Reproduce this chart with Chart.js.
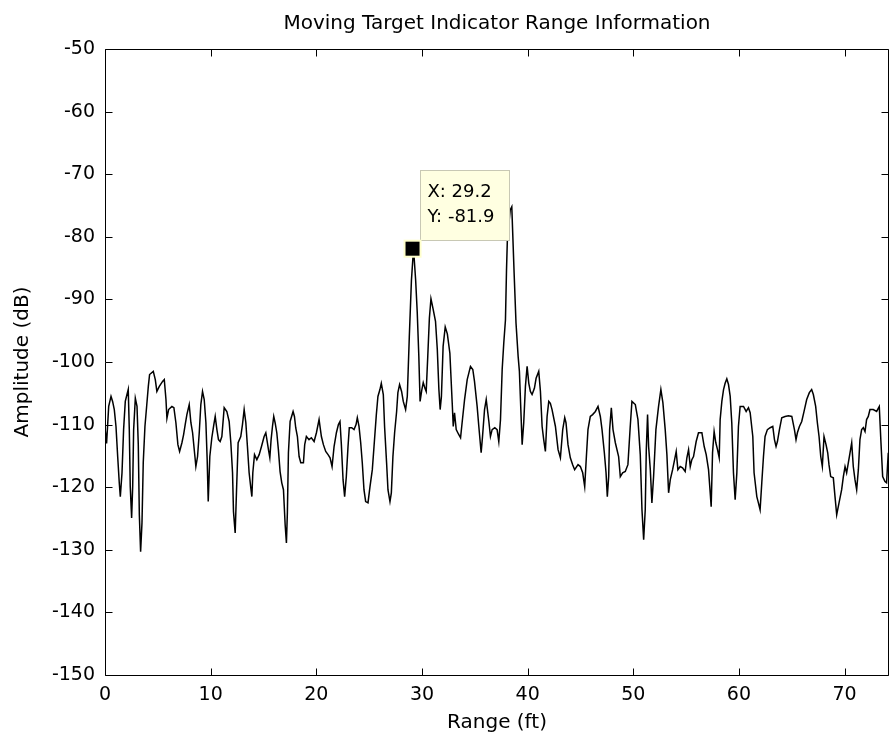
<!DOCTYPE html>
<html>
<head>
<meta charset="utf-8">
<title>Moving Target Indicator Range Information</title>
<script src="https://cdn.jsdelivr.net/npm/chart.js@4.4.1/dist/chart.umd.min.js"></script>
<style>
  html, body { margin: 0; padding: 0; background: #fff; }
  #wrap { width: 889px; height: 742px; }
</style>
</head>
<body>
<div id="wrap"><canvas id="mti" width="889" height="742"></canvas></div>
<script>
// range bins (ft) and amplitude (dB)
const rangeFt = [
  0.00, 0.15, 0.35, 0.57, 0.72, 0.88, 1.04, 1.20, 1.35, 1.45, 1.61, 1.76, 1.92, 2.08, 2.20, 2.30, 2.39, 2.52, 2.62, 2.71,
  2.87, 3.03, 3.15, 3.25, 3.37, 3.50, 3.62, 3.78, 3.94, 4.10, 4.22, 4.57, 4.76, 4.91, 5.14, 5.45, 5.61, 5.77, 5.86, 6.02,
  6.33, 6.52, 6.71, 6.90, 7.06, 7.28, 7.44, 7.59, 7.75, 7.97, 8.13, 8.29, 8.51, 8.60, 8.76, 8.92, 9.07, 9.23, 9.39, 9.55,
  9.67, 9.77, 9.92, 10.11, 10.30, 10.43, 10.59, 10.74, 10.90, 11.06, 11.28, 11.53, 11.75, 11.91, 12.07, 12.16, 12.32, 12.45, 12.60, 12.85,
  13.01, 13.17, 13.33, 13.48, 13.64, 13.80, 13.90, 13.99, 14.15, 14.37, 14.59, 14.81, 15.06, 15.22, 15.47, 15.60, 15.72, 15.85, 15.97, 16.10,
  16.26, 16.41, 16.57, 16.73, 16.89, 17.05, 17.17, 17.26, 17.36, 17.52, 17.80, 17.93, 18.05, 18.21, 18.37, 18.53, 18.78, 18.90, 19.06, 19.31,
  19.53, 19.79, 20.01, 20.26, 20.48, 20.67, 20.89, 21.11, 21.30, 21.49, 21.68, 21.90, 22.09, 22.24, 22.37, 22.53, 22.68, 22.84, 23.00, 23.12,
  23.35, 23.57, 23.76, 23.88, 24.04, 24.20, 24.35, 24.51, 24.67, 24.89, 25.08, 25.30, 25.46, 25.68, 25.83, 26.02, 26.15, 26.34, 26.46, 26.65,
  26.78, 26.97, 27.10, 27.25, 27.41, 27.60, 27.72, 27.88, 28.07, 28.23, 28.45, 28.61, 28.80, 29.00, 29.20, 29.40, 29.55, 29.70, 29.82, 29.98,
  30.12, 30.28, 30.40, 30.55, 30.70, 30.85, 31.05, 31.28, 31.45, 31.60, 31.72, 31.84, 32.00, 32.20, 32.40, 32.64, 32.86, 32.96, 33.08, 33.24,
  33.45, 33.65, 33.81, 34.03, 34.28, 34.59, 34.81, 34.97, 35.22, 35.38, 35.60, 35.73, 35.92, 36.08, 36.33, 36.48, 36.64, 36.89, 37.11, 37.27,
  37.43, 37.59, 37.74, 37.90, 38.00, 38.08, 38.35, 38.50, 38.72, 38.90, 39.10, 39.22, 39.38, 39.48, 39.63, 39.79, 39.95, 40.11, 40.26, 40.42,
  40.64, 40.80, 41.05, 41.21, 41.37, 41.52, 41.68, 41.84, 42.00, 42.15, 42.31, 42.63, 42.88, 43.10, 43.32, 43.51, 43.63, 43.82, 44.04, 44.26,
  44.45, 44.77, 44.99, 45.21, 45.40, 45.56, 45.71, 45.93, 46.15, 46.41, 46.66, 46.88, 47.04, 47.26, 47.42, 47.54, 47.67, 47.76, 47.92, 48.08,
  48.30, 48.61, 48.77, 48.99, 49.24, 49.49, 49.71, 49.87, 50.19, 50.44, 50.66, 50.82, 50.98, 51.13, 51.23, 51.35, 51.45, 51.61, 51.76, 51.92,
  52.14, 52.39, 52.61, 52.80, 53.02, 53.18, 53.34, 53.50, 53.72, 53.91, 54.06, 54.22, 54.44, 54.66, 54.91, 55.07, 55.23, 55.39, 55.54, 55.70,
  55.95, 56.17, 56.49, 56.71, 56.90, 57.12, 57.28, 57.37, 57.50, 57.65, 57.81, 57.97, 58.13, 58.22, 58.38, 58.54, 58.69, 58.85, 59.01, 59.17,
  59.32, 59.48, 59.64, 59.80, 59.95, 60.11, 60.43, 60.68, 60.90, 61.06, 61.31, 61.43, 61.69, 61.84, 62.00, 62.16, 62.32, 62.47, 62.69, 62.95,
  63.20, 63.36, 63.51, 63.64, 63.83, 64.05, 64.36, 64.68, 65.00, 65.25, 65.40, 65.53, 65.72, 65.94, 66.16, 66.41, 66.66, 66.88, 67.04, 67.26,
  67.42, 67.58, 67.74, 67.89, 68.05, 68.24, 68.40, 68.52, 68.68, 68.93, 69.09, 69.25, 69.47, 69.72, 69.88, 70.04, 70.19, 70.35, 70.51, 70.67,
  70.82, 70.98, 71.14, 71.30, 71.45, 71.61, 71.77, 71.93, 72.08, 72.24, 72.40, 72.71, 73.03, 73.28, 73.44, 73.60, 73.82, 73.97, 74.13
];
const amplitudeDb = [
  -110.5, -113.0, -107.1, -105.5, -106.3, -107.6, -110.3, -115.1, -119.3, -121.5, -117.7, -110.8, -106.3, -105.2, -104.4, -110.8, -119.9, -124.9, -119.9, -110.8,
  -105.8, -107.1, -113.2, -124.4, -130.3, -125.7, -116.1, -110.3, -107.1, -103.9, -102.0, -101.5, -102.8, -104.7, -103.9, -103.1, -102.8, -106.0, -109.0, -107.6,
  -107.1, -107.3, -109.7, -113.2, -114.3, -112.9, -111.6, -110.0, -108.4, -106.8, -109.7, -111.3, -115.1, -116.7, -115.1, -111.3, -106.8, -104.7, -106.0, -109.7,
  -115.6, -122.3, -115.1, -112.1, -110.0, -108.7, -110.8, -112.4, -112.7, -111.9, -107.3, -107.9, -109.5, -112.9, -117.7, -123.9, -127.3, -120.4, -112.9, -111.9,
  -110.0, -107.6, -109.7, -113.5, -117.7, -120.1, -121.5, -117.7, -114.8, -115.6, -114.8, -113.5, -111.9, -111.3, -114.0, -115.3, -112.4, -110.3, -108.7, -109.7,
  -111.3, -114.0, -117.5, -119.3, -120.4, -126.0, -128.9, -124.1, -114.5, -109.5, -107.9, -108.7, -110.5, -111.9, -115.1, -116.1, -116.1, -113.2, -111.9, -112.4,
  -112.1, -112.7, -111.3, -109.2, -111.9, -113.2, -114.3, -114.8, -115.3, -116.7, -113.5, -111.3, -110.0, -109.5, -113.2, -118.8, -121.5, -118.3, -113.5, -110.5,
  -110.5, -110.8, -110.0, -108.9, -110.3, -112.9, -116.1, -120.4, -122.3, -122.5, -119.9, -117.2, -113.5, -108.4, -105.5, -104.4, -103.4, -105.2, -110.3, -116.1,
  -120.4, -122.3, -120.9, -115.1, -111.3, -107.9, -104.9, -103.6, -104.7, -106.3, -107.6, -105.5, -96.0, -87.0, -81.9, -86.9, -92.0, -99.0, -106.3, -104.5,
  -103.3, -104.2, -104.7, -99.0, -93.0, -89.9, -91.5, -93.5, -98.0, -104.4, -107.6, -105.5, -97.5, -94.4, -95.5, -98.6, -106.5, -110.3, -108.1, -110.8,
  -111.5, -112.1, -109.5, -106.0, -102.8, -100.7, -101.2, -103.1, -107.1, -110.3, -114.5, -111.9, -107.6, -106.0, -109.5, -111.9, -110.8, -110.5, -110.8, -112.7,
  -109.2, -101.2, -97.0, -93.3, -85.3, -80.5, -75.7, -75.2, -85.8, -93.8, -99.1, -101.5, -108.7, -113.2, -109.7, -103.9, -100.7, -103.4, -104.7, -105.2,
  -104.2, -102.6, -101.5, -104.7, -110.3, -112.4, -114.3, -108.7, -106.3, -106.6, -107.6, -110.3, -114.0, -115.3, -110.8, -108.9, -109.7, -113.2, -115.3, -116.4,
  -117.2, -116.4, -116.7, -117.7, -119.9, -115.1, -110.8, -108.7, -108.4, -107.9, -107.1, -108.7, -110.8, -114.5, -117.7, -121.5, -118.3, -110.8, -107.3, -110.8,
  -112.9, -115.1, -118.3, -117.7, -117.5, -116.4, -110.3, -106.3, -106.8, -109.2, -114.8, -123.6, -128.4, -123.6, -114.0, -108.4, -113.5, -117.2, -122.5, -118.3,
  -110.8, -107.1, -104.4, -106.5, -110.8, -114.8, -120.9, -118.8, -117.2, -115.6, -114.3, -117.2, -116.7, -116.9, -117.5, -115.3, -114.0, -116.7, -115.6, -115.1,
  -112.7, -111.3, -111.3, -113.5, -114.8, -117.2, -120.9, -123.1, -114.5, -111.1, -112.9, -114.0, -115.3, -109.2, -106.3, -104.4, -103.4, -102.7, -103.6, -105.5,
  -109.7, -117.7, -122.0, -117.7, -110.3, -107.1, -107.1, -107.9, -107.3, -108.1, -111.9, -117.7, -121.5, -122.5, -123.6, -119.3, -115.1, -111.9, -110.8, -110.5,
  -110.3, -112.4, -113.5, -112.7, -110.8, -108.9, -108.7, -108.6, -108.7, -110.8, -112.4, -111.3, -110.3, -109.5, -107.9, -106.0, -104.9, -104.4, -105.2, -107.1,
  -109.7, -111.9, -115.1, -116.7, -111.9, -113.2, -114.5, -116.4, -118.3, -118.5, -121.5, -124.4, -122.5, -120.4, -118.3, -116.7, -117.7, -116.1, -114.5, -112.9,
  -116.7, -118.8, -120.4, -117.2, -112.4, -110.8, -110.5, -111.1, -109.2, -108.7, -107.6, -107.6, -107.9, -107.1, -112.9, -118.3, -119.1, -119.3, -114.5
];

const xTicks = [0, 10, 20, 30, 40, 50, 60, 70];
const yTicks = [-150, -140, -130, -120, -110, -100, -90, -80, -70, -60, -50];

// data cursor
const tipX = 29.2;
const tipY = -81.9;

const FONT = "'DejaVu Sans', 'Liberation Sans', sans-serif";

// matlab style box, inward ticks on all four sides and the data tip
const matlabAxes = {
  id: 'matlabAxes',
  afterDatasetsDraw(chart) {
    const { ctx, chartArea: a, scales: { x, y } } = chart;
    const tl = 7;
    ctx.save();
    ctx.strokeStyle = '#000';
    ctx.lineWidth = 1;
    const L = a.left + 0.5, R = a.right - 0.5, T = a.top + 0.5, B = a.bottom + 0.5;
    ctx.beginPath();
    ctx.rect(L, T, R - L, B - T);
    xTicks.forEach(v => {
      const px = Math.round(x.getPixelForValue(v)) + 0.5;
      ctx.moveTo(px, B); ctx.lineTo(px, B - tl);
      ctx.moveTo(px, T); ctx.lineTo(px, T + tl);
    });
    yTicks.forEach(v => {
      const py = Math.round(y.getPixelForValue(v)) + 0.5;
      ctx.moveTo(L, py); ctx.lineTo(L + tl, py);
      ctx.moveTo(R, py); ctx.lineTo(R - tl, py);
    });
    ctx.stroke();

    // data tip
    const cx = x.getPixelForValue(tipX);
    const cy = y.getPixelForValue(tipY);
    const bx = Math.round(cx) + 6.5, by = Math.round(cy) - 78.5, bw = 89, bh = 70;
    ctx.fillStyle = '#ffffe1';
    ctx.strokeStyle = '#c8c8b4';
    ctx.fillRect(bx, by, bw, bh);
    ctx.strokeRect(bx, by, bw, bh);
    ctx.fillStyle = '#000';
    ctx.font = "18px " + FONT;
    ctx.textBaseline = 'middle';
    ctx.textAlign = 'left';
    ctx.fillText('X: ' + tipX.toFixed(1), bx + 7, by + 22);
    ctx.fillText('Y: ' + tipY.toFixed(1), bx + 7, by + 47);

    ctx.fillStyle = '#ffffcc';
    ctx.fillRect(cx - 10, cy - 9, 18, 18);
    ctx.fillStyle = '#000';
    ctx.fillRect(cx - 8, cy - 7, 14, 14);
    ctx.restore();
  }
};

new Chart(document.getElementById('mti'), {
  type: 'line',
  data: {
    datasets: [{
      data: rangeFt.map((r, i) => ({ x: r, y: amplitudeDb[i] })),
      borderColor: '#000',
      borderWidth: 1.5,
      pointRadius: 0,
      tension: 0,
      fill: false
    }]
  },
  options: {
    responsive: false,
    animation: false,
    layout: { padding: 0 },
    plugins: {
      legend: { display: false },
      tooltip: { enabled: false },
      title: {
        display: true,
        fullSize: false,
        text: 'Moving Target Indicator Range Information',
        color: '#000',
        font: { family: FONT, size: 20, weight: 'normal' },
        padding: { top: 12, bottom: 13 }
      }
    },
    scales: {
      x: {
        type: 'linear',
        min: 0,
        max: 74.2,
        grid: { display: false, drawTicks: false },
        border: { display: false },
        afterBuildTicks: s => { s.ticks = xTicks.map(v => ({ value: v })); },
        afterFit: s => { s.height = 67; },
        ticks: { color: '#000', font: { family: FONT, size: 19 }, padding: 9, maxRotation: 0, autoSkip: false },
        title: { display: true, text: 'Range (ft)', color: '#000', font: { family: FONT, size: 20 }, padding: { top: 0, bottom: 7 } }
      },
      y: {
        type: 'linear',
        min: -150,
        max: -50,
        grid: { display: false, drawTicks: false },
        border: { display: false },
        afterBuildTicks: s => { s.ticks = yTicks.map(v => ({ value: v })); },
        afterFit: s => { s.width = 105; },
        ticks: { color: '#000', font: { family: FONT, size: 19 }, padding: 10, autoSkip: false },
        title: { display: true, text: 'Amplitude (dB)', color: '#000', font: { family: FONT, size: 20 }, padding: { top: 11, bottom: 0 } }
      }
    }
  },
  plugins: [matlabAxes]
});
</script>
</body>
</html>
